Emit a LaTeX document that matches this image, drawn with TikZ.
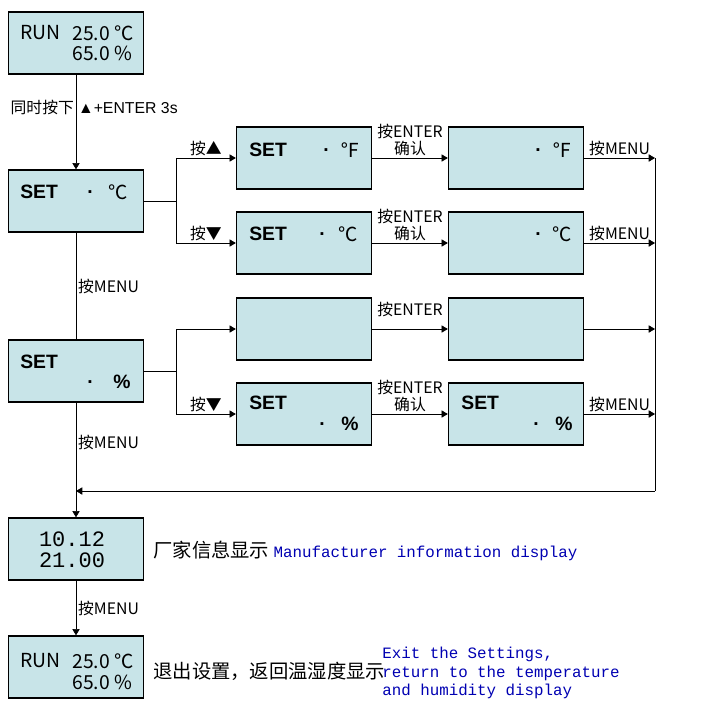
\documentclass[tikz,border=0pt]{standalone}
\usepackage{fontspec}
\setmainfont{Liberation Sans}
\newfontfamily\cjk{Noto Sans CJK SC}
\newfontfamily\mono{Liberation Mono}
\usetikzlibrary{positioning,calc,arrows.meta}
\definecolor{lcd}{RGB}{200,228,232}
\begin{document}
\begin{tikzpicture}[x=0.02cm,y=-0.02cm,>=Triangle,
    box/.style={rectangle,draw,thick,fill=lcd,minimum width=2.7cm,minimum height=1.24cm,inner sep=0pt},
    txt/.style={font=\cjk\fontsize{11}{12}\selectfont,inner sep=0pt},
    big/.style={font=\bfseries\fontsize{11}{12}\selectfont,inner sep=0pt},
    lab/.style={font=\cjk\fontsize{9}{10}\selectfont,inner sep=1pt},
    en/.style={font=\mono\fontsize{9}{10.5}\selectfont,text=blue!70!black,inner sep=0pt,align=left}]
  \useasboundingbox (0,0) rectangle (712,708);
  % left column
  \node[box] (run) at (76,43) {};
  \node[box] (setc) at (76,201) {};
  \node[box] (setp) at (76,371) {};
  \node[box] (info) at (76,549) {};
  \node[box] (back) at (76,667) {};
  % right columns
  \node[box] (f1) at (304,158) {};
  \node[box] (f2) at (516,158) {};
  \node[box] (c1) at (304,243) {};
  \node[box] (c2) at (516,243) {};
  \node[box] (u1) at (304,329) {};
  \node[box] (u2) at (516,329) {};
  \node[box] (p1) at (304,414) {};
  \node[box] (p2) at (516,414) {};
  % box texts
  \node[txt,anchor=west] at (20,33) {RUN};
  \node[txt,anchor=west] at (72,33) {25.0 ℃};
  \node[txt,anchor=west] at (72,53) {65.0 \%};
  \node[txt,anchor=west] at (20,661) {RUN};
  \node[txt,anchor=west] at (72,661) {25.0 ℃};
  \node[txt,anchor=west] at (72,682) {65.0 \%};
  \node[big,anchor=west] at (20,192) {SET};
  \node[big] at (90,192) {.};
  \node[txt] at (118,192) {℃};
  \node[big,anchor=west] at (20,362) {SET};
  \node[big] at (90,382) {.};
  \node[big] at (122,382) {\%};
  \node[font=\mono\fontsize{12.5}{14}\selectfont] at (72,539) {10.12};
  \node[font=\mono\fontsize{12.5}{14}\selectfont] at (72,560) {21.00};
  \node[big,anchor=west] at (249,150) {SET};
  \node[big] at (326,150) {.};
  \node[txt] at (350,150) {℉};
  \node[big] at (538,150) {.};
  \node[txt] at (562,150) {℉};
  \node[big,anchor=west] at (249,234) {SET};
  \node[big] at (322,234) {.};
  \node[txt] at (348,234) {℃};
  \node[big] at (538,234) {.};
  \node[txt] at (562,234) {℃};
  \node[big,anchor=west] at (249,403) {SET};
  \node[big] at (322,424) {.};
  \node[big] at (350,424) {\%};
  \node[big,anchor=west] at (461,403) {SET};
  \node[big] at (536,424) {.};
  \node[big] at (564,424) {\%};
  % main flow
  \draw[->] (run) -- node[lab,left,pos=0.35] {同时按下} node[lab,right,pos=0.35,font=\fontsize{9}{10}\selectfont] {▲+ENTER 3s} (setc);
  \draw (setc) -- node[lab,right] {按MENU} (setp);
  \coordinate (join) at (76,491);
  \draw[->] (setp) -- node[lab,right,pos=0.35] {按MENU} (info);
  \draw[->] (info) -- node[lab,right] {按MENU} (back);
  % forks
  \coordinate (fk1) at (176,201);
  \coordinate (fk2) at (176,371);
  \draw (setc.east) -- (fk1);
  \draw[->] (fk1) |- node[lab,above,pos=0.75] {按▲} (f1.west);
  \draw[->] (fk1) |- node[lab,above,pos=0.75] {按▼} (c1.west);
  \draw (setp.east) -- (fk2);
  \draw[->] (fk2) |- (u1.west);
  \draw[->] (fk2) |- node[lab,above,pos=0.75] {按▼} (p1.west);
  % enter
  \foreach \a/\b in {f1/f2,c1/c2,p1/p2}
    \draw[->] (\a) -- node[lab,above,align=center] {按ENTER\\确认} (\b);
  \draw[->] (u1) -- node[lab,above=6pt] {按ENTER} (u2);
  % menu to right rail
  \coordinate (top) at (655,158);
  \coordinate (bot) at (655,491);
  \foreach \b/\t in {f2/按MENU,c2/按MENU,u2/{},p2/按MENU}
    \draw[->] (\b.east) -- node[lab,above] {\t} (\b.east -| top);
  \draw (top) -- (bot);
  \draw[->] (bot) -- (join);
  % descriptions
  \node[txt,anchor=west] at (153,551) {厂家信息显示 \mono\fontsize{9}{10}\selectfont\color{blue!70!black}Manufacturer information display};
  \node[txt,anchor=west] at (153,671) {退出设置，返回温湿度显示};
  \node[en,anchor=west] at (382,673) {Exit the Settings,\\return to the temperature\\and humidity display};
\end{tikzpicture}
\end{document}
